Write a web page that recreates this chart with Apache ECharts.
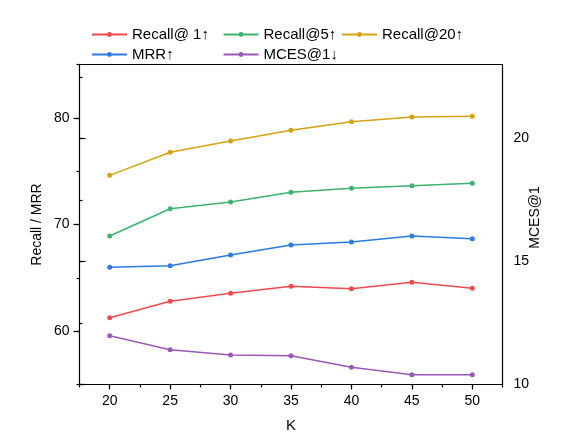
<!DOCTYPE html>
<html>
<head>
<meta charset="utf-8">
<script src="https://cdn.jsdelivr.net/npm/echarts@6/dist/echarts.min.js"></script>
<style>
html,body{margin:0;padding:0;background:#fff;}
#chart{width:582px;height:446px;}
</style>
</head>
<body>
<div id="chart"></div>
<script>
// ---- data ----
const kValues = [20, 25, 30, 35, 40, 45, 50];
const recall1 = [61.26, 62.80, 63.55, 64.21, 63.98, 64.58, 64.03];
const recall5 = [68.92, 71.48, 72.11, 73.02, 73.39, 73.64, 73.86];
const recall20 = [74.61, 76.77, 77.83, 78.83, 79.64, 80.08, 80.14];
const mrr = [65.99, 66.14, 67.14, 68.08, 68.36, 68.92, 68.66];
const mces1 = [11.98, 11.41, 11.20, 11.17, 10.70, 10.40, 10.40];
const seriesNames = ['Recall@ 1\u2191', 'Recall@5\u2191', 'Recall@20\u2191', 'MRR\u2191', 'MCES@1\u2193'];
const leftTicks = [60, 70, 80];
const rightTicks = [10, 15, 20];
const xTicks = [20, 25, 30, 35, 40, 45, 50];

// ---- layout ----
const FONT = 'Liberation Sans, Arial, sans-serif';
const L = 79.5, R = 79.5, T = 64.5, B = 61.5;
const H = 446 - T - B; // plot height in px
const leftMin = 55, leftMax = 85;
const rightMin = 10, rightMax = 23;
const xMin = 17.5, xMax = 52.5;
const W = 582 - L - R;
const lpx = H / (leftMax - leftMin);
const rpx = H / (rightMax - rightMin);
const xpx = W / (xMax - xMin);

const colors = ['#F04A4E', '#3DB36E', '#D6A20F', '#2A7BE4', '#9C58B6'];
const black = '#000';

function pairs(vals) { return kValues.map((k, i) => [k, vals[i]]); }

const grids = [
  {left: L, right: R, top: T, bottom: B},                                   // 0 main
  {left: L + (xTicks[0] - xMin) * xpx, right: R + (xMax - xTicks[xTicks.length-1]) * xpx, top: T, bottom: B}, // 1 x major
  {left: L, right: R, top: T + (leftMax - leftTicks[2]) * lpx, bottom: B + (leftTicks[0] - leftMin) * lpx},   // 2 left major
  {left: L, right: R, top: T + (rightMax - rightTicks[2]) * rpx, bottom: B},                                  // 3 right major
  {left: L, right: R, top: T + (rightMax - 22.5) * rpx, bottom: B}                                            // 4 right minor
];
const hiddenX = (g) => ({type: 'value', gridIndex: g, show: false, min: 0, max: 1});
const hiddenY = (g) => ({type: 'value', gridIndex: g, show: false, min: 0, max: 1});
const lineS = {show: true, lineStyle: {color: black, width: 1.2}};
const legendBase = {orient: 'vertical', top: 27, padding: 0, itemWidth: 35, itemHeight: 6, itemGap: 5,
  textStyle: {fontSize: 15, color: black, fontFamily: FONT}};

const option = {
  animation: false,
  backgroundColor: '#fff',
  grid: grids,
  legend: [
    Object.assign({}, legendBase, {data: [seriesNames[0], seriesNames[3]], left: 91}),
    Object.assign({}, legendBase, {data: [seriesNames[1], seriesNames[4]], left: 222.5}),
    Object.assign({}, legendBase, {data: [seriesNames[2]], left: 341})
  ],
  xAxis: [
    {type: 'value', gridIndex: 0, position: 'bottom', min: xMin, max: xMax, interval: 2.5,
     axisLine: lineS, axisTick: {show: true, inside: false, length: 3, lineStyle: {color: black, width: 1.2}},
     axisLabel: {show: false}, splitLine: {show: false},
     name: 'K', nameLocation: 'middle', nameGap: 34,
     nameTextStyle: {fontSize: 15, color: black, fontFamily: FONT}},
    {type: 'value', gridIndex: 0, position: 'top', min: xMin, max: xMax,
     axisLine: lineS, axisTick: {show: false}, axisLabel: {show: false}, splitLine: {show: false}},
    {type: 'value', gridIndex: 1, position: 'bottom', min: xTicks[0], max: xTicks[xTicks.length-1], interval: 5,
     axisLine: {show: false}, axisTick: {show: true, length: 5, lineStyle: {color: black, width: 1.2}},
     axisLabel: {show: true, fontSize: 14, color: black, fontFamily: FONT, margin: 10}, splitLine: {show: false}},
    hiddenX(2), hiddenX(3), hiddenX(4)
  ],
  yAxis: [
    {type: 'value', gridIndex: 0, position: 'left', min: leftMin, max: leftMax, interval: 5,
     axisLine: lineS, axisTick: {show: true, length: 3, lineStyle: {color: black, width: 1.2}},
     axisLabel: {show: false}, splitLine: {show: false},
     name: 'Recall / MRR', nameLocation: 'middle', nameRotate: 90, nameGap: 35,
     nameTextStyle: {fontSize: 14, color: black, fontFamily: FONT}},
    {type: 'value', gridIndex: 0, position: 'right', min: rightMin, max: rightMax,
     axisLine: lineS, axisTick: {show: false}, axisLabel: {show: false}, splitLine: {show: false},
     name: 'MCES@1', nameLocation: 'middle', nameRotate: 90, nameGap: 26,
     nameTextStyle: {fontSize: 14, color: black, fontFamily: FONT, padding: [0, 0, 0, 14]}},
    hiddenY(1),
    {type: 'value', gridIndex: 2, position: 'left', min: leftTicks[0], max: leftTicks[2], interval: 10,
     axisLine: {show: false}, axisTick: {show: true, length: 6, lineStyle: {color: black, width: 1.2}},
     axisLabel: {show: true, fontSize: 14, color: black, fontFamily: FONT, margin: 10}, splitLine: {show: false}},
    {type: 'value', gridIndex: 3, position: 'right', min: rightTicks[0], max: rightTicks[2], interval: 5,
     axisLine: {show: false}, axisTick: {show: true, length: 6, lineStyle: {color: black, width: 1.2}},
     axisLabel: {show: true, fontSize: 14, color: black, fontFamily: FONT, margin: 11}, splitLine: {show: false}},
    {type: 'value', gridIndex: 4, position: 'right', min: rightMin, max: 22.5, interval: 2.5,
     axisLine: {show: false}, axisTick: {show: true, length: 3, lineStyle: {color: black, width: 1.2}},
     axisLabel: {show: false}, splitLine: {show: false}}
  ],
  series: [recall1, recall5, recall20, mrr, mces1].map((vals, i) => ({
    name: seriesNames[i],
    type: 'line',
    xAxisIndex: 0,
    yAxisIndex: i === 4 ? 1 : 0,
    data: pairs(vals),
    symbol: 'circle',
    symbolSize: 5,
    color: colors[i],
    lineStyle: {width: 1.5, color: colors[i]},
    itemStyle: {color: colors[i]},
    z: 3
  }))
};

const chart = echarts.init(document.getElementById('chart'), null, {renderer: 'canvas'});
chart.setOption(option);
</script>
</body>
</html>
